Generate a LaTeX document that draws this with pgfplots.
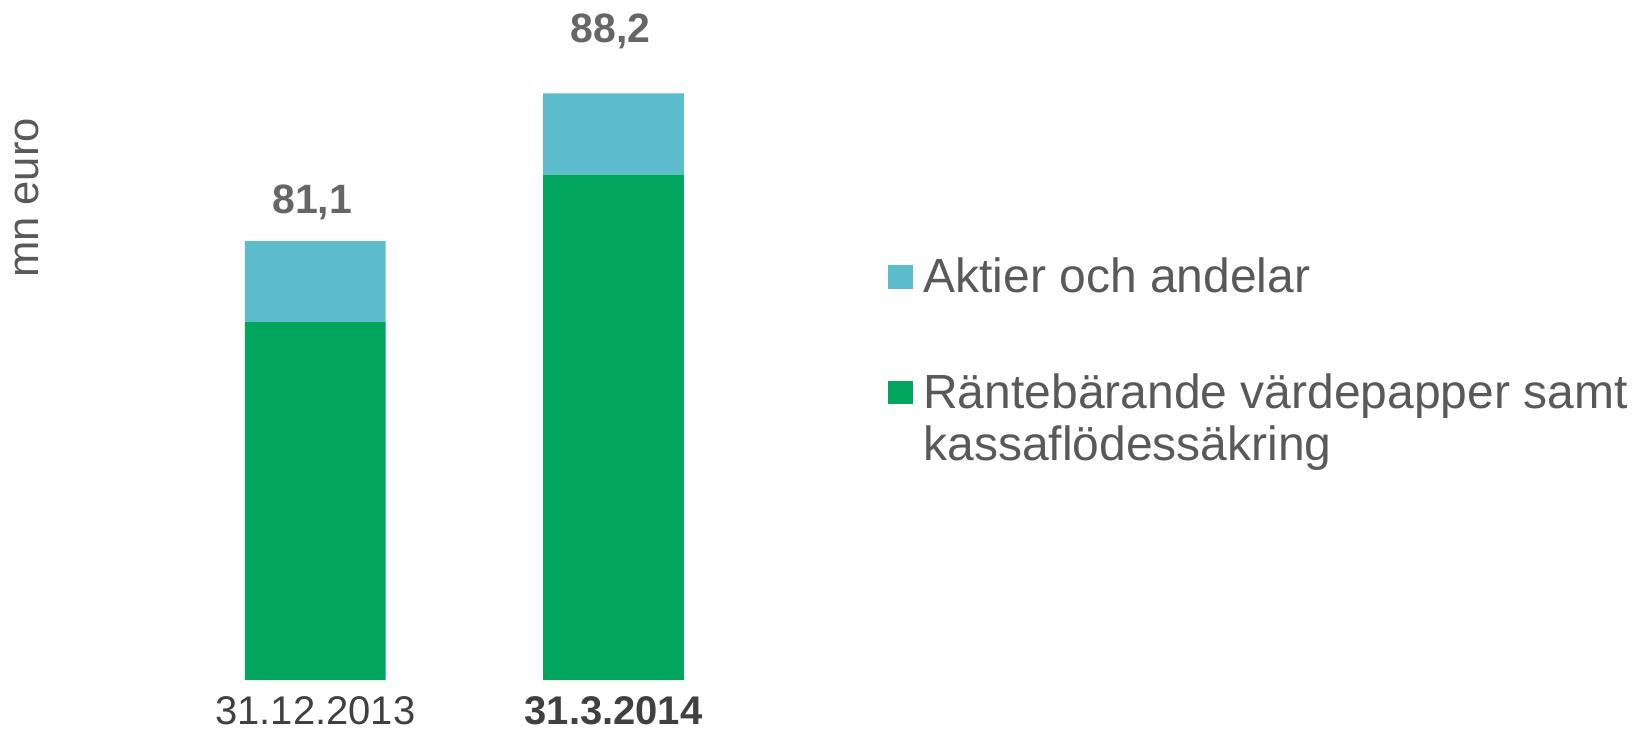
\documentclass[border=0pt]{standalone}
\usepackage{fontspec}
\setmainfont{Liberation Sans}
\usepackage{pgfplots}
\usepackage{pgfplotstable}
\pgfplotsset{compat=1.18}
\definecolor{aktier}{HTML}{5DBCCB}
\definecolor{rante}{HTML}{00A65D}
\definecolor{txtgray}{HTML}{595959}
\definecolor{lblgray}{HTML}{666666}
\definecolor{tickgray}{HTML}{404040}

% mn euro (axis starts at 60)
\pgfplotstableread{
x y
0 77.2
1 84.3
}\rantedata
% totals shown above the bars (labels sit at the middle of the top segment)
\pgfplotstableread{
x y lab
0 3.9 {\raisebox{34.3pt}{81,1}}
1 3.9 {\raisebox{46pt}{88,2}}
}\aktierdata

\begin{document}
\begin{tikzpicture}
\path[use as bounding box] (-83.1pt,-25pt) rectangle (738.4pt,340pt);
\begin{axis}[
  at={(0,0)}, anchor=south west,
  scale only axis,
  width=298.2pt, height=364pt,
  ybar stacked,
  bar width=70.35pt,
  xmin=-0.5, xmax=1.5,
  ymin=60, ymax=95,
  xtick={0,1},
  xticklabels={31.12.2013,\textbf{31.3.2014}},
  ytick=\empty,
  axis line style={draw=none},
  major tick length=0pt,
  xticklabel style={font=\fontsize{20}{24}\selectfont, text=tickgray, anchor=north, inner sep=0pt, yshift=-8.2pt},
  ylabel={mn euro},
  ylabel style={at={(axis description cs:-0.2326,0.6621)}, anchor=center,
    font=\fontsize{21.8}{24}\selectfont, text=txtgray},
  reverse legend,
  legend style={at={(axis description cs:1.2108,0.5851)}, anchor=north west,
    draw=none, fill=none, inner sep=0pt, outer sep=0pt, row sep=35.1pt, column sep=3pt,
    font=\fontsize{24}{26}\selectfont, text=txtgray,
    cells={anchor=base west, align=left, inner sep=0pt}},
  nodes near coords style={anchor=base, inner sep=0pt},
]
\addplot[fill=rante, draw=none,
  legend image code/.code={\fill[rante] (0pt,28.2pt) rectangle (12.5pt,39.9pt);}]
  table[x=x,y=y] {\rantedata};
\addlegendentry{Räntebärande värdepapper samt\\kassaflödessäkring}
\addplot[fill=aktier, draw=none,
  legend image code/.code={\fill[aktier] (0pt,1.75pt) rectangle (12.5pt,13.75pt);},
  nodes near coords, point meta=explicit symbolic,
  every node near coord/.append style={font=\bfseries\fontsize{20.5}{24}\selectfont,
    text=lblgray, anchor=base, inner sep=0pt, xshift=-1.5pt}]
  table[x=x,y=y,meta=lab] {\aktierdata};
\addlegendentry{Aktier och andelar}
\end{axis}
\end{tikzpicture}
\end{document}
